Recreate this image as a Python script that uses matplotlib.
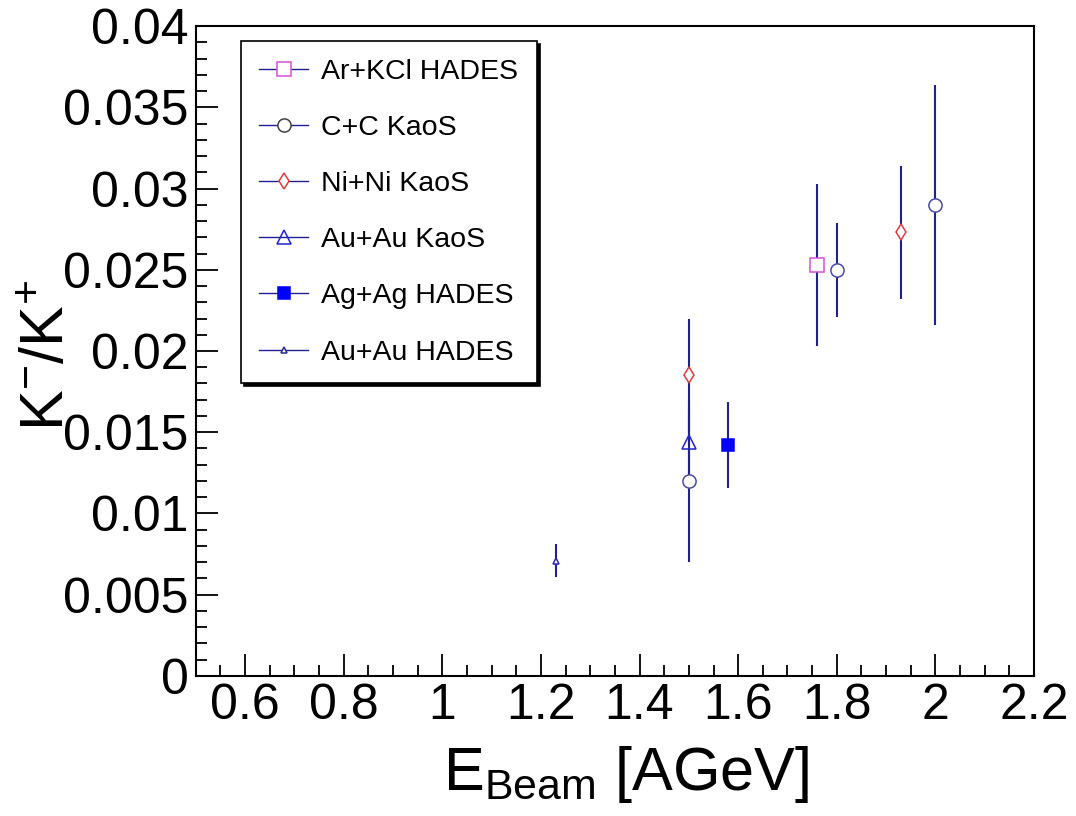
"""
K-/K+ ratio vs beam energy (ROOT-style scatter with error bars).
"""
import matplotlib
matplotlib.use("Agg")
import matplotlib.pyplot as plt
from matplotlib.lines import Line2D
from matplotlib.ticker import FixedLocator, MultipleLocator, FuncFormatter
import numpy as np

plt.rcParams["font.family"] = ["Liberation Sans", "DejaVu Sans"]
plt.rcParams["mathtext.fontset"] = "custom"
plt.rcParams["mathtext.rm"] = "Liberation Sans"
plt.rcParams["mathtext.it"] = "Liberation Sans"

LABELS = ["Ar+KCl HADES", "C+C KaoS", "Ni+Ni KaoS", "Au+Au KaoS", "Ag+Ag HADES", "Au+Au HADES"]

# beam energy (AGeV), ratio, symmetric error
AR_KCL_E = [1.76]
AR_KCL_R = [0.0253]
AR_KCL_ERR = [0.0050]

CC_E = [1.5, 1.8, 2.0]
CC_R = [0.0120, 0.0250, 0.0290]
CC_ERR = [0.0050, 0.0029, 0.0074]

NINI_E = [1.5, 1.93]
NINI_R = [0.0185, 0.0273]
NINI_ERR = [0.0035, 0.0041]

AUAU_KAOS_E = [1.5]
AUAU_KAOS_R = [0.0144]
AUAU_KAOS_ERR = [0.0020]

AGAG_E = [1.58]
AGAG_R = [0.0142]
AGAG_ERR = [0.00265]

AUAU_HADES_E = [1.23]
AUAU_HADES_R = [0.0071]
AUAU_HADES_ERR = [0.0010]

X_TICKS = [0.6, 0.8, 1.0, 1.2, 1.4, 1.6, 1.8, 2.0, 2.2]
Y_TICKS = [0, 0.005, 0.01, 0.015, 0.02, 0.025, 0.03, 0.035, 0.04]

BAR_COLOR = "#202090"

STYLES = [
    dict(marker="s", ms=9.5, mec="#d94fd9", mfc="white"),
    dict(marker="o", ms=9.5, mec="#4a4aa8", mfc="white"),
    dict(marker="d", ms=8.0, mec="#e03c3c", mfc="white"),
    dict(marker="^", ms=10.5, mec="#2222cc", mfc="none"),
    dict(marker="s", ms=9.0, mec="#0000ff", mfc="#0000ff"),
    dict(marker="^", ms=5.0, mec="#2a2aa0", mfc="white"),
]
LEGEND_MEC = ["#d94fd9", "#404040", "#e03c3c", "#2222cc", "#0000ff", "#2a2aa0"]


def main():
    series = [
        (AR_KCL_E, AR_KCL_R, AR_KCL_ERR),
        (CC_E, CC_R, CC_ERR),
        (NINI_E, NINI_R, NINI_ERR),
        (AUAU_KAOS_E, AUAU_KAOS_R, AUAU_KAOS_ERR),
        (AGAG_E, AGAG_R, AGAG_ERR),
        (AUAU_HADES_E, AUAU_HADES_R, AUAU_HADES_ERR),
    ]

    fig = plt.figure(figsize=(10.76, 8.16), dpi=100)
    ax = fig.add_axes([0.1819, 0.1716, 0.961 - 0.1819, 0.9681 - 0.1716])

    for (e, r, err) in series:
        ax.errorbar(e, r, yerr=err, fmt="none", ecolor=BAR_COLOR, elinewidth=1.5,
                    capsize=0, zorder=2)
    for (e, r, err), st in zip(series, STYLES):
        ax.plot(e, r, linestyle="none", mew=1.1, zorder=3, **st)

    ax.set_xlim(0.5, 2.2)
    ax.set_ylim(0, 0.04)
    ax.xaxis.set_major_locator(FixedLocator(X_TICKS))
    ax.xaxis.set_minor_locator(MultipleLocator(0.05))
    ax.yaxis.set_major_locator(FixedLocator(Y_TICKS))
    ax.yaxis.set_minor_locator(MultipleLocator(0.001))
    fmt = FuncFormatter(lambda v, p: "%g" % round(v, 4))
    ax.xaxis.set_major_formatter(fmt)
    ax.yaxis.set_major_formatter(fmt)

    ax.tick_params(which="both", direction="in", top=False, right=False, width=1.3)
    ax.tick_params(which="major", length=16, labelsize=36)
    ax.tick_params(which="minor", length=8)
    ax.tick_params(axis="x", pad=5)
    ax.tick_params(axis="y", pad=5)
    for s in ax.spines.values():
        s.set_linewidth(1.5)

    fig.text(48 / 1076, 1 - 355 / 816, r"K$^{-}$/K$^{+}$", rotation=90,
             ha="center", va="center", fontsize=44)
    fig.text(626 / 1076, 1 - 790 / 816, r"E$_{\mathrm{Beam}}$ [AGeV]",
             ha="center", va="baseline", fontsize=44)

    handles = []
    for st, mec in zip(STYLES, LEGEND_MEC):
        h = dict(st)
        h["mec"] = mec
        handles.append(Line2D([0], [0], color=BAR_COLOR, lw=1.0, mew=1.1, **h))

    leg = fig.legend(handles, LABELS, loc="upper left",
                     bbox_to_anchor=(241 / 1076, (816 - 379) / 816, 296 / 1076, 338 / 816),
                     bbox_transform=fig.transFigure, mode="expand", borderaxespad=0,
                     fontsize=20.5, handlelength=1.75, handletextpad=0.45,
                     labelspacing=1.06, borderpad=0.62, fancybox=False,
                     shadow={"color": "black", "alpha": 1.0}, frameon=True)
    leg.get_frame().set_edgecolor("black")
    leg.get_frame().set_linewidth(1.2)
    leg.get_frame().set_alpha(1)

    fig.savefig("out.png", dpi=100)
    plt.close(fig)


if __name__ == "__main__":
    main()
